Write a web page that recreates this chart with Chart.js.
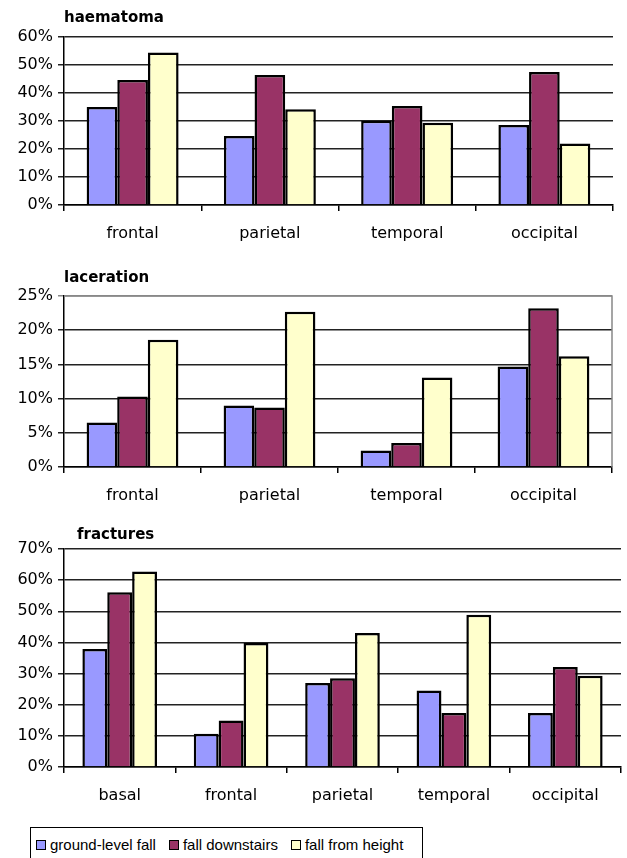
<!DOCTYPE html>
<html>
<head>
<meta charset="utf-8">
<script src="https://cdn.jsdelivr.net/npm/chart.js@4.4.1/dist/chart.umd.min.js"></script>
<style>
  body { margin: 0; background: #fff; width: 627px; height: 858px; overflow: hidden; position: relative; }
  canvas { position: absolute; left: 0; }
  #legend {
    position: absolute; left: 30px; top: 827px; width: 393px; height: 40px;
    border: 1px solid #000; font: 15px "Liberation Sans", Arial, sans-serif; color: #000;
    display: flex; align-items: flex-start; padding: 8px 0 0 5px; box-sizing: border-box;
  }
  #legend .item { display: flex; align-items: center; margin-right: 13px; white-space: nowrap; }
  #legend .box { width: 8px; height: 8px; border: 1.5px solid #000; margin-right: 4px; }
</style>
</head>
<body>
<canvas id="haematoma" width="627" height="250" style="top:0"></canvas>
<canvas id="laceration" width="627" height="260" style="top:250px"></canvas>
<canvas id="fractures" width="627" height="310" style="top:510px"></canvas>
<div id="legend"></div>
<script>
// series
const seriesNames = ['ground-level fall', 'fall downstairs', 'fall from height'];

// haematoma (%)
const haematomaCats = ['frontal', 'parietal', 'temporal', 'occipital'];
const haematomaGround = [35.0, 24.6, 30.1, 28.6];
const haematomaDown = [44.6, 46.4, 35.4, 47.5];
const haematomaHeight = [54.5, 34.2, 29.4, 22.0];

// laceration (%)
const lacerationCats = ['frontal', 'parietal', 'temporal', 'occipital'];
const lacerationGround = [6.5, 9.0, 2.4, 14.7];
const lacerationDown = [10.3, 8.7, 3.5, 23.2];
const lacerationHeight = [18.6, 22.7, 13.1, 16.2];

// fractures (%)
const fractureCats = ['basal', 'frontal', 'parietal', 'temporal', 'occipital'];
const fractureGround = [37.9, 10.7, 27.0, 24.6, 17.3];
const fractureDown = [56.1, 14.9, 28.5, 17.3, 32.1];
const fractureHeight = [62.8, 39.8, 43.0, 48.9, 29.3];

// y axis ticks
const haematomaTicks = [0, 10, 20, 30, 40, 50, 60];
const lacerationTicks = [0, 5, 10, 15, 20, 25];
const fractureTicks = [0, 10, 20, 30, 40, 50, 60, 70];

const colors = ['#9999ff', '#993366', '#ffffcc'];
const FONT = 'DejaVu Sans';

function makeChart(id, canvasTop, canvasH, plot, title, cats, series, yTicks, framed) {
  const axisH = canvasTop + canvasH - plot.bottom;
  const step = yTicks[1] - yTicks[0];
  const yMax = yTicks[yTicks.length - 1];

  const titlePlugin = {
    id: 'panelTitle',
    afterDraw(chart) {
      const c = chart.ctx;
      c.save();
      c.font = 'bold 15px "' + FONT + '"';
      c.fillStyle = '#000';
      c.textBaseline = 'middle';
      c.fillText(title.text, title.x, chart.chartArea.top - title.dy);
      c.restore();
    }
  };
  // grey plot-area frame (laceration panel only)
  const framePlugin = {
    id: 'frame',
    beforeDatasetsDraw(chart) {
      if (!framed) return;
      const a = chart.chartArea, c = chart.ctx;
      c.save();
      c.strokeStyle = '#888';
      c.lineWidth = 1.5;
      c.beginPath();
      c.moveTo(a.left, a.top);
      c.lineTo(a.right, a.top);
      c.lineTo(a.right, a.bottom);
      c.stroke();
      c.restore();
    }
  };

  return new Chart(document.getElementById(id), {
    type: 'bar',
    data: {
      labels: cats,
      datasets: series.map((d, i) => ({
        label: seriesNames[i],
        data: d,
        backgroundColor: colors[i],
        borderColor: '#000',
        borderWidth: 2.5,
        barPercentage: 1,
        categoryPercentage: 0.67
      }))
    },
    options: {
      responsive: false,
      animation: false,
      devicePixelRatio: 1,
      layout: {
        padding: { top: plot.top - canvasTop, right: 627 - plot.right, bottom: 0, left: 0 }
      },
      plugins: { legend: { display: false }, tooltip: { enabled: false } },
      scales: {
        x: {
          offset: true,
          grid: { offset: true, drawOnChartArea: false, drawTicks: true, tickLength: 6, color: '#000', lineWidth: 1.5 },
          border: { display: true, color: '#000', width: 1.5 },
          ticks: { color: '#000', font: { family: FONT, size: 16 }, padding: 13, maxRotation: 0, autoSkip: false },
          afterFit(s) { s.height = axisH; }
        },
        y: {
          min: 0,
          max: yMax,
          ticks: {
            stepSize: step,
            color: '#000',
            font: { family: FONT, size: 16 },
            padding: 5,
            callback: v => v + '%'
          },
          grid: {
            color: ctx => (framed && ctx.tick && ctx.tick.value === yMax) ? '#888' : '#222',
            lineWidth: 1.5,
            tickLength: 6,
            drawTicks: true
          },
          border: { color: '#000', width: 1.5 },
          afterFit(s) { s.width = 64; }
        }
      }
    },
    plugins: [framePlugin, titlePlugin]
  });
}

makeChart('haematoma', 0, 250, { top: 37, bottom: 205, right: 613 },
  { text: 'haematoma', x: 64, dy: 19 }, haematomaCats,
  [haematomaGround, haematomaDown, haematomaHeight], haematomaTicks, false);

makeChart('laceration', 250, 260, { top: 296, bottom: 467, right: 612 },
  { text: 'laceration', x: 64, dy: 18 }, lacerationCats,
  [lacerationGround, lacerationDown, lacerationHeight], lacerationTicks, true);

makeChart('fractures', 510, 310, { top: 549, bottom: 767, right: 621 },
  { text: 'fractures', x: 77, dy: 14 }, fractureCats,
  [fractureGround, fractureDown, fractureHeight], fractureTicks, false);

// legend
const legend = document.getElementById('legend');
seriesNames.forEach((name, i) => {
  const item = document.createElement('span');
  item.className = 'item';
  const box = document.createElement('span');
  box.className = 'box';
  box.style.background = colors[i];
  item.appendChild(box);
  item.appendChild(document.createTextNode(name));
  legend.appendChild(item);
});
</script>
</body>
</html>
